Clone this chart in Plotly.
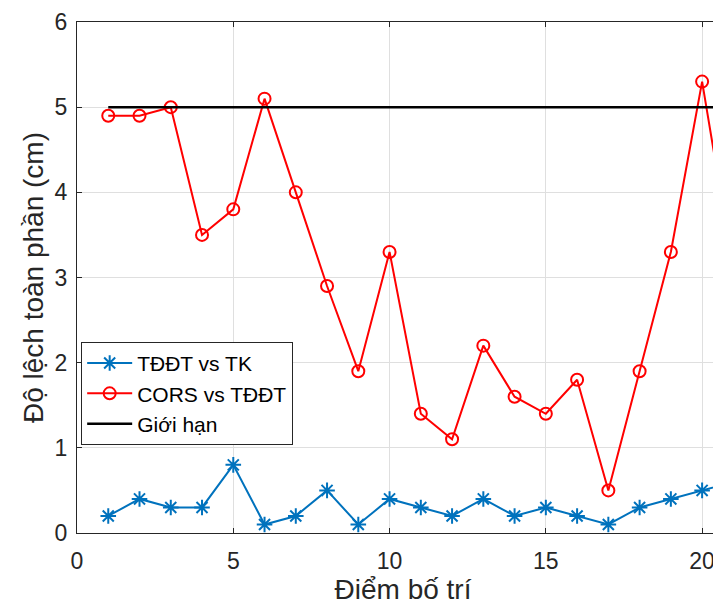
import plotly.graph_objects as go

points = list(range(1, 22))
tddt_vs_tk = [0.2, 0.4, 0.3, 0.3, 0.8, 0.1, 0.2, 0.5, 0.1, 0.4, 0.3, 0.2, 0.4, 0.2, 0.3, 0.2, 0.1, 0.3, 0.4, 0.5, 0.6]
cors_vs_tddt = [4.9, 4.9, 5.0, 3.5, 3.8, 5.1, 4.0, 2.9, 1.9, 3.3, 1.4, 1.1, 2.2, 1.6, 1.4, 1.8, 0.5, 1.9, 3.3, 5.3, 3.1]
gioi_han_x = [1, 22]
gioi_han_y = [5, 5]
x_ticks = [0, 5, 10, 15, 20]
y_ticks = [0, 1, 2, 3, 4, 5, 6]

FONT = "Liberation Sans, Arial, Helvetica, sans-serif"
TXT = "#262626"

fig = go.Figure()
fig.add_trace(go.Scatter(
    x=points, y=tddt_vs_tk, mode="lines+markers", name="TĐĐT vs TK",
    line=dict(color="#0072BD", width=2),
    marker=dict(symbol="asterisk-open", size=13, color="#0072BD", line=dict(color="#0072BD", width=2)),
))
fig.add_trace(go.Scatter(
    x=points, y=cors_vs_tddt, mode="lines+markers", name="CORS vs TĐĐT",
    line=dict(color="#FF0000", width=2),
    marker=dict(symbol="circle-open", size=12, color="#FF0000", line=dict(color="#FF0000", width=2)),
))
fig.add_trace(go.Scatter(
    x=gioi_han_x, y=gioi_han_y, mode="lines", name="Giới hạn",
    line=dict(color="#000000", width=2.5),
))

fig.update_layout(
    width=721, height=605,
    margin=dict(l=69, r=0, t=14, b=80),
    paper_bgcolor="white", plot_bgcolor="white",
    font=dict(family=FONT, color=TXT, size=23),
    showlegend=True,
    legend=dict(
        x=0.0064, y=0.374, xanchor="left", yanchor="top",
        bgcolor="white", bordercolor="#262626", borderwidth=1,
        font=dict(family=FONT, size=21, color="#000000"),
        itemwidth=45, tracegroupgap=0,
    ),
    xaxis=dict(
        range=[0, 20.86], tickvals=x_ticks, automargin=False,
        showgrid=True, gridcolor="#dfdfdf", gridwidth=1,
        showline=True, linecolor="#262626", linewidth=1, mirror="ticks",
        ticks="inside", ticklen=5, tickcolor="#262626",
        tickfont=dict(size=23, color=TXT), zeroline=False,
        ticklabeloverflow="allow", ticklabelstandoff=7,
        title=dict(text="Điểm bố trí", font=dict(size=28, color=TXT), standoff=0),
    ),
    yaxis=dict(
        range=[0, 6], tickvals=y_ticks, automargin=False,
        showgrid=True, gridcolor="#dfdfdf", gridwidth=1,
        showline=True, linecolor="#262626", linewidth=1, mirror=False,
        ticks="inside", ticklen=5, tickcolor="#262626",
        tickfont=dict(size=23, color=TXT), zeroline=False,
        ticklabeloverflow="allow", ticklabelstandoff=4,
        title=dict(text="Độ lệch toàn phần (cm)", font=dict(size=28, color=TXT), standoff=2),
    ),
)

fig.write_html("out.html")
